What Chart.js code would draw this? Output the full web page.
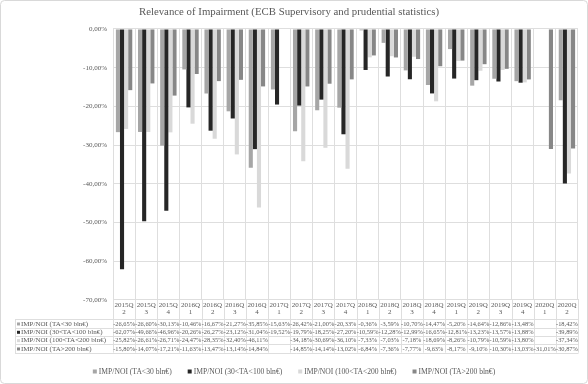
<!DOCTYPE html>
<html><head><meta charset="utf-8">
<script src="https://cdn.jsdelivr.net/npm/chart.js@4/dist/chart.umd.min.js"></script>
<style>html,body{margin:0;padding:0;background:#fff}#wrap{width:588px;height:384px}</style>
</head><body><div id="wrap"><canvas id="c" width="588" height="384"></canvas></div>
<script>
const categories = ['2015Q2','2015Q3','2015Q4','2016Q1','2016Q2','2016Q3','2016Q4','2017Q1','2017Q2','2017Q3','2017Q4','2018Q1','2018Q2','2018Q3','2018Q4','2019Q1','2019Q2','2019Q3','2019Q4','2020Q1','2020Q2'];
const seriesNames = ['IMP/NOI (TA<30 bln€)','IMP/NOI (30<TA<100 bln€)','IMP/NOI (100<TA<200 bln€)','IMP/NOI (TA>200 bln€)'];
const taUnder30 = [-26.65,-26.60,-30.13,-10.46,-16.67,-21.27,-35.85,-15.63,-26.42,-21.00,-20.33,-0.36,-3.59,-10.70,-14.47,-5.20,-14.64,-12.86,-13.48,null,-18.42];
const ta30to100 = [-62.07,-49.66,-46.96,-20.26,-26.27,-23.12,-31.04,-19.52,-19.79,-18.25,-27.20,-10.59,-12.28,-12.99,-16.65,-12.81,-13.23,-13.57,-13.88,null,-39.89];
const ta100to200 = [-25.82,-26.61,-26.71,-24.47,-28.35,-32.40,-46.11,null,-34.18,-30.69,-36.10,-7.33,-7.03,-7.18,-18.69,-8.26,-10.79,-10.59,-13.80,null,-37.34];
const taOver200 = [-15.80,-14.07,-17.21,-11.63,-13.47,-13.14,-14.84,null,-14.85,-14.14,-13.02,-6.84,-7.36,-7.77,-9.63,-8.17,-9.10,-10.30,-13.03,-31.01,-30.87];
const seriesColors = ['#a6a6a6','#262626','#d9d9d9','#878787'];
const yTicks = [0,-10,-20,-30,-40,-50,-60,-70];

const FONT = 'Liberation Serif';
const TXT = '#595959';
const GRID = '#dedede';
const fmt = v => v.toFixed(2).replace('.', ',') + '%';
const allSeries = [taUnder30, ta30to100, ta100to200, taOver200];

const tablePlugin = {
  id: 'dataTable',
  beforeDraw(chart) {
    const ctx = chart.ctx;
    ctx.save();
    ctx.fillStyle = '#fff';
    ctx.fillRect(0, 0, chart.width, chart.height);
    ctx.strokeStyle = '#d9d9d9';
    ctx.lineWidth = 1;
    ctx.beginPath();
    ctx.roundRect(0.5, 0.5, chart.width - 1, chart.height - 1, 4);
    ctx.stroke();
    ctx.restore();
  },
  afterDraw(chart) {
    const ctx = chart.ctx;
    const ca = chart.chartArea;
    const x = chart.scales.x;
    const n = categories.length;
    const headerBottom = ca.bottom + 19.3;
    const rowH = 8.33;
    const tableLeft = 15;
    const tableBottom = headerBottom + rowH * 4;
    const al = v => Math.round(v) + 0.5;
    ctx.save();
    ctx.strokeStyle = GRID;
    ctx.lineWidth = 1;
    ctx.beginPath();
    for (let i = 0; i <= n; i++) {
      const xx = al(x.getPixelForValue(i - 0.5));
      ctx.moveTo(xx, ca.bottom);
      ctx.lineTo(xx, tableBottom);
    }
    for (let r = 0; r <= 4; r++) {
      const yy = al(headerBottom + r * rowH);
      ctx.moveTo(tableLeft, yy);
      ctx.lineTo(al(ca.right), yy);
    }
    ctx.moveTo(al(tableLeft), al(headerBottom));
    ctx.lineTo(al(tableLeft), al(tableBottom));
    ctx.stroke();

    ctx.textBaseline = 'middle';
    for (let s = 0; s < 4; s++) {
      const ym = headerBottom + rowH * s + rowH / 2 + 0.5;
      ctx.fillStyle = seriesColors[s];
      ctx.fillRect(17, ym - 1.5, 3, 3);
      ctx.fillStyle = TXT;
      ctx.textAlign = 'left';
      ctx.font = '7px "' + FONT + '"';
      ctx.fillText(seriesNames[s], 21, ym);
      ctx.textAlign = 'center';
      ctx.font = '6.4px "' + FONT + '"';
      allSeries[s].forEach((v, i) => {
        if (v === null) return;
        ctx.fillText(fmt(v), x.getPixelForValue(i), ym);
      });
    }

    // legend
    ctx.font = '7.6px "' + FONT + '"';
    const sw = 4, sg = 2, gap = 16;
    const widths = seriesNames.map(t => ctx.measureText(t).width);
    const total = widths.reduce((a, b) => a + b, 0) + 4 * (sw + sg) + 3 * gap;
    let lx = 294 - total / 2;
    const ly = 371.5;
    ctx.textAlign = 'left';
    for (let s = 0; s < 4; s++) {
      ctx.fillStyle = seriesColors[s];
      ctx.fillRect(lx, ly - 2, sw, sw);
      lx += sw + sg;
      ctx.fillStyle = TXT;
      ctx.fillText(seriesNames[s], lx, ly);
      lx += widths[s] + gap;
    }
    ctx.restore();
  }
};

new Chart(document.getElementById('c'), {
  type: 'bar',
  data: {
    labels: categories.map(c => [c.slice(0, 5), c.slice(5)]),
    datasets: allSeries.map((d, i) => ({
      label: seriesNames[i],
      data: d,
      backgroundColor: seriesColors[i],
      borderWidth: 0,
      categoryPercentage: 0.74,
      barPercentage: 1.0
    }))
  },
  options: {
    responsive: false,
    devicePixelRatio: 1,
    animation: false,
    layout: { padding: { left: 0, right: 10, top: 0, bottom: 0 } },
    plugins: {
      legend: { display: false },
      tooltip: { enabled: false },
      title: {
        display: true,
        text: 'Relevance of Impairment (ECB Supervisory and prudential statistics)',
        color: TXT,
        font: { family: FONT, size: 10.8, weight: 'normal' },
        padding: { top: 6, bottom: 10 }
      }
    },
    scales: {
      x: {
        offset: true,
        grid: { offset: true, color: GRID, drawTicks: false },
        border: { color: GRID },
        ticks: {
          color: TXT, autoSkip: false, maxRotation: 0, minRotation: 0, padding: 2,
          font: { family: FONT, size: 7, lineHeight: 1.0 }
        },
        afterFit: s => { s.height = 84; }
      },
      y: {
        min: -70, max: 0,
        afterBuildTicks: s => { s.ticks = yTicks.map(v => ({ value: v })); },
        grid: { color: GRID, drawTicks: false },
        border: { display: false },
        ticks: {
          color: TXT, padding: 6,
          font: { family: FONT, size: 7 },
          callback: v => v.toFixed(2).replace('.', ',') + '%'
        },
        afterFit: s => { s.width = 113; }
      }
    }
  },
  plugins: [tablePlugin]
});
</script>
</body></html>
